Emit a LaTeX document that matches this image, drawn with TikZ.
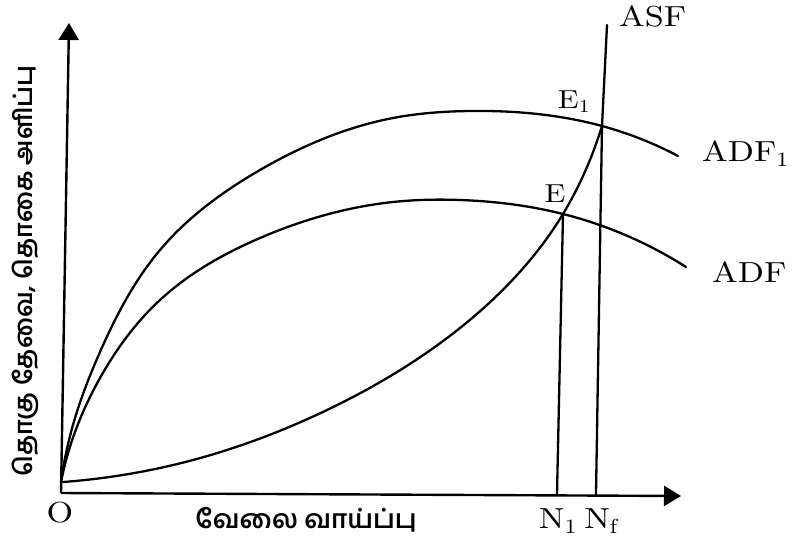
\documentclass[tikz,border=0pt]{standalone}
\usepackage{fontspec}
\setmainfont{lmroman10-regular.otf}[FakeStretch=1.18]
\newfontfamily\tamil[Script=Tamil]{Hind Madurai}
\usetikzlibrary{arrows.meta,hobby}
\begin{document}
\begin{tikzpicture}[x=1pt,y=-1pt,
  ln/.style={line width=2.3pt, line cap=round, line join=round},
  axis/.style={line width=2.4pt, -{Triangle[length=17pt,width=20pt]}},
  lbl/.style={font=\fontsize{29}{31}\selectfont, inner sep=0pt},
  small/.style={font=\fontsize{26}{28}\selectfont, inner sep=0pt},
  tl/.style={font=\tamil\bfseries\fontsize{25}{27}\selectfont, inner sep=0pt}]
\useasboundingbox (0,0) rectangle (792,545);
\fill[white] (0,0) rectangle (792,545);
% axes
\coordinate (O) at (61,493);
\coordinate (ytip) at (69,23);
\coordinate (xtip) at (681,496);
\draw[axis] (O) -- (ytip);
\draw[axis] (O) -- (xtip);
% key points
\coordinate (E) at (563,214);
\coordinate (E1) at (602,126);
\coordinate (N1) at (557,494);
\coordinate (Nf) at (596,494);
\coordinate (asftop) at (607,25);
% verticals
\draw[ln] (E) -- (N1);
\draw[ln] (asftop) -- (E1) -- (Nf);
% ADF1
\draw[ln, use Hobby shortcut] (61,482) .. (75,418) .. (100,352) .. (160,250) .. (260,170) .. (393,118) .. (470,111) .. (E1) .. (678,156);
% ADF
\draw[ln, use Hobby shortcut] (61,482) .. (75,432) .. (100,378) .. (160,300) .. (260,238) .. (393,202) .. (460,200) .. (E) .. (686,267);
% ASF curve
\draw[ln, use Hobby shortcut] (63,482) .. (193,460) .. (327,410) .. (460,328) .. (E) .. (587,167) .. (E1);
% labels
\node[lbl] (Olbl) at (60,513) {O};
\node[lbl, anchor=west] (asf) at (619,16) {ASF};
\node[small] (e1lbl) at (574,102) {E\textsubscript{1}};
\node[small] (elbl) at (555,194) {E};
\node[lbl, anchor=west] (adf1) at (702,154) {ADF\textsubscript{1}};
\node[lbl, anchor=west] (adf) at (712,272) {ADF};
\node[lbl] (n1lbl) at (558,521) {N\textsubscript{1}};
\node[lbl] (nflbl) at (601,521) {N\textsubscript{f}};
\node[tl, font=\tamil\bfseries\fontsize{26}{28}\selectfont] (xlbl) at (306,520) {வேலை வாய்ப்பு};
\node[tl, rotate=90] (ylbl) at (25,271) {தொகு தேவை, தொகை அளிப்பு};
\end{tikzpicture}
\end{document}
